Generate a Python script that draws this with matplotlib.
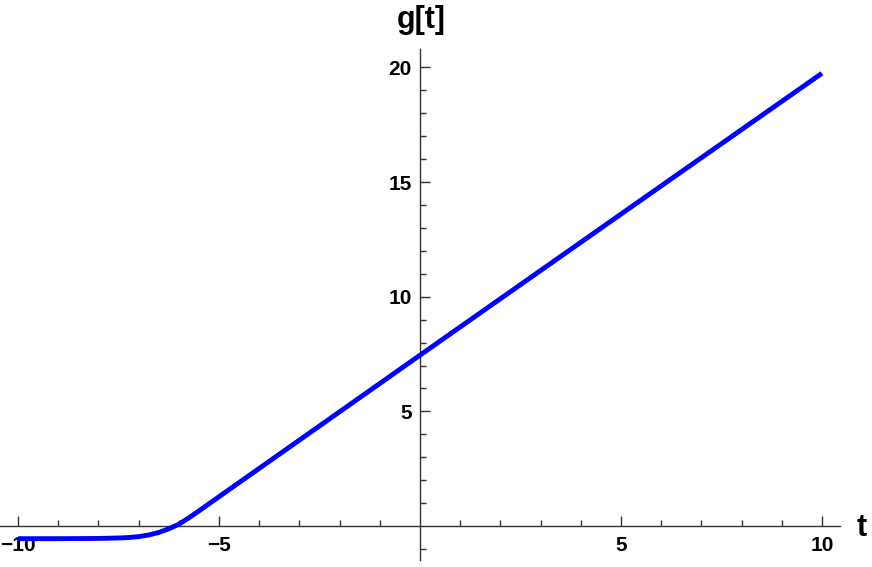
import matplotlib
matplotlib.use("Agg")
import matplotlib.pyplot as plt

# Data
t_vals = [-10.0, -9.0, -8.0, -7.5, -7.25, -7.0, -6.75, -6.5, -6.25, -6.0, -5.75, -5.5, -5.25, -5.0, 0.0, 5.0, 10.0]
g_vals = [-0.55, -0.55, -0.54, -0.52, -0.50, -0.46, -0.39, -0.28, -0.12, 0.08, 0.36, 0.66, 0.97, 1.28, 7.45, 13.6, 19.74]

x_major = [-10, -5, 5, 10]
x_major_labels = ["\u221210", "\u22125", "5", "10"]
y_major = [5, 10, 15, 20]
y_major_labels = ["5", "10", "15", "20"]
x_minor = [v for v in range(-10, 11) if v not in x_major and v != 0]
y_minor = [v for v in range(-1, 21) if v not in y_major and v != 0]

W, H = 872, 567
fig = plt.figure(figsize=(W / 100, H / 100), dpi=100)
x0, x1 = -10.45, 10.45
y0, y1 = -1.48, 20.8
px_left, px_right = 0, 840
py_bottom, py_top = 560, 49
ax = fig.add_axes([px_left / W, (H - py_bottom) / H, (px_right - px_left) / W, (py_bottom - py_top) / H])
ax.set_xlim(x0, x1)
ax.set_ylim(y0, y1)

ax.plot(t_vals, g_vals, color="#0000ff", lw=3.5, solid_capstyle="butt",
        solid_joinstyle="round", clip_on=False, zorder=3)

for s in ["top", "right"]:
    ax.spines[s].set_visible(False)
ax.spines["left"].set_position(("data", 0))
ax.spines["bottom"].set_position(("data", 0))
for s in ["left", "bottom"]:
    ax.spines[s].set_color("#333333")
    ax.spines[s].set_linewidth(1.0)

font = dict(family=["Liberation Sans", "DejaVu Sans"], weight="bold", size=15)
ax.set_xticks(x_major)
ax.set_xticklabels(x_major_labels, fontdict=font)
ax.set_yticks(y_major)
ax.set_yticklabels(y_major_labels, fontdict=font)
ax.set_xticks(x_minor, minor=True)
ax.set_yticks(y_minor, minor=True)

ax.tick_params(axis="both", which="both", direction="in", color="#333333", width=1.0)
ax.tick_params(axis="x", which="major", pad=7)
ax.tick_params(axis="y", which="major", pad=6)
ax.tick_params(axis="both", which="major", length=7.2)
ax.tick_params(axis="both", which="minor", length=4.3)

for lbl in ax.get_xticklabels() + ax.get_yticklabels():
    lbl.set_color("black")

fig.text(862 / W, 1 - 528 / H, "t", ha="center", va="center",
         fontfamily=["Liberation Sans", "DejaVu Sans"], fontweight="bold", fontsize=22)
fig.text(421 / W, 1 - 20 / H, "g[t]", ha="center", va="center",
         fontfamily=["Liberation Sans", "DejaVu Sans"], fontweight="bold", fontsize=22)

fig.savefig("out.png", dpi=100)
